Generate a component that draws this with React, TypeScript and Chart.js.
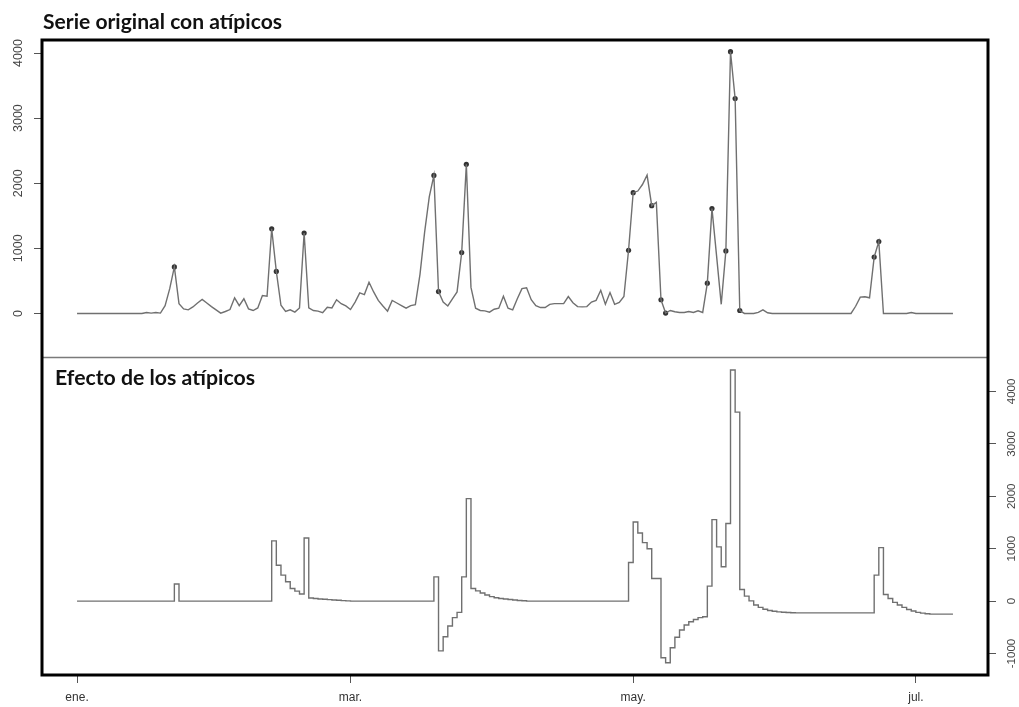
import React, { useEffect, useRef } from "react";
import { Chart, registerables } from "chart.js";

Chart.register(...registerables);

// Days counted from 1 January (day 0); one value per day.
const serieOriginal = [
  0, 0, 0, 0, 0, 0, 0, 0, 0, 0, 0, 0, 0, 0, 0, 15, 5, 15, 5,
  120, 380, 715, 150, 70, 55, 100, 160, 215, 160, 105, 55, 5, 30, 60, 240, 120, 225, 70, 45, 85,
  275, 265, 1300, 645, 125, 30, 55, 20, 85, 1235, 85, 45, 35, 10, 95, 85, 210, 150, 115, 60,
  175, 315, 290, 480, 330, 200, 115, 35, 200, 160, 120, 80, 120, 135, 600, 1250, 1790, 2120, 335, 175,
  115, 225, 330, 935, 2290, 400, 80, 45, 40, 20, 65, 80, 265, 80, 55, 225, 380, 395, 210, 120,
  90, 90, 140, 150, 150, 150, 260, 165, 105, 100, 105, 175, 200, 355, 140, 320, 140, 170, 260, 970,
  1855, 1880, 1980, 2125, 1655, 1705, 210, 5, 45, 25, 15, 15, 30, 15, 40, 15, 465, 1610, 880, 140,
  960, 4020, 3300, 45, 0, 0, 0, 15, 55, 10, 0, 0, 0, 0, 0, 0, 0, 0, 0, 0,
  0, 0, 0, 0, 0, 0, 0, 0, 110, 250, 255, 240, 865, 1105, 0, 0, 0, 0, 0, 0,
  15, 0, 0, 0, 0, 0, 0, 0, 0, 0,
];

const efectoAtipicos = [
  0, 0, 0, 0, 0, 0, 0, 0, 0, 0, 0, 0, 0, 0, 0, 0, 0, 0, 0, 0,
  0, 325, 0, 0, 0, 0, 0, 0, 0, 0, 0, 0, 0, 0, 0, 0, 0, 0, 0, 0,
  0, 0, 1150, 685, 495, 370, 240, 190, 135, 1205, 60, 50, 40, 35, 28, 22, 17, 10, 5, 0,
  0, 0, 0, 0, 0, 0, 0, 0, 0, 0, 0, 0, 0, 0, 0, 0, 0, 463, -950, -680,
  -475, -315, -215, 463, 1955, 240, 195, 155, 115, 85, 65, 50, 40, 30, 20, 12, 6, 0, 0, 0,
  0, 0, 0, 0, 0, 0, 0, 0, 0, 0, 0, 0, 0, 0, 0, 0, 0, 0, 0, 737,
  1510, 1300, 1115, 1000, 430, 430, -1080, -1175, -890, -690, -550, -455, -395, -350, -315, -300, 285, 1555, 1035, 655,
  1480, 4410, 3605, 220, 95, 5, -75, -120, -155, -180, -195, -205, -212, -218, -222, -225, -225, -225, -225, -225,
  -225, -225, -225, -225, -225, -225, -225, -225, -225, -225, -225, -225, 495, 1020, 125, 50, -25, -75, -120, -160,
  -190, -215, -230, -240, -248, -248, -248, -248, -248, -248,
];

const diasAtipicos = [21, 42, 43, 49, 77, 78, 83, 84, 119, 120, 124, 126, 127, 136, 137, 140, 141, 142, 143, 172, 173];

const xTickDias = [0, 59, 120, 181];
const xTickEtiquetas = ["ene.", "mar.", "may.", "jul."];
const yTicksSuperior = [0, 1000, 2000, 3000, 4000];
const yTicksInferior = [-1000, 0, 1000, 2000, 3000, 4000];

const tituloSuperior = "Serie original con atípicos";
const tituloInferior = "Efecto de los atípicos";

// Panel value ranges (each panel takes half of the plotting area)
const superiorRango = [-677, 4200];
const inferiorRango = [-1410, 4648];
const xRango = [-7.56, 196.56];

const LINE = "#707070";
const NARROW = "'Liberation Sans Narrow', 'Liberation Sans', Arial, sans-serif";

const marcoPlugin = {
  id: "marco",
  afterDraw(chart: any) {
    const { ctx, chartArea } = chart;
    const { left, top, right, bottom } = chartArea;
    const mid = (top + bottom) / 2;
    ctx.save();
    ctx.strokeStyle = "#7a7a7a";
    ctx.lineWidth = 1.5;
    ctx.beginPath();
    ctx.moveTo(left, mid);
    ctx.lineTo(right, mid);
    ctx.stroke();
    ctx.strokeStyle = "#000";
    ctx.lineWidth = 3;
    ctx.strokeRect(left, top, right - left, bottom - top);

    const drawTitle = (text: string, x: number, y: number, w: number) => {
      ctx.save();
      ctx.font = "bold 20px Lato, 'Open Sans', sans-serif";
      const mw = ctx.measureText(text).width;
      ctx.translate(x, y);
      ctx.scale(w / mw, 1);
      ctx.fillStyle = "#111";
      ctx.textAlign = "left";
      ctx.textBaseline = "alphabetic";
      ctx.fillText(text, 0, 0);
      ctx.restore();
    };
    drawTitle(tituloSuperior, left + 1, top - 11, 239);
    drawTitle(tituloInferior, left + 13, mid + 27, 200);
    ctx.restore();
  },
};

export default function App() {
  const ref = useRef<HTMLCanvasElement | null>(null);

  useEffect(() => {
    if (!ref.current) return;
    const [sLo, sHi] = superiorRango;
    const [iLo, iHi] = inferiorRango;
    const chart = new Chart(ref.current, {
      type: "line",
      data: {
        datasets: [
          {
            data: serieOriginal.map((v, i) => ({ x: i, y: v })),
            yAxisID: "ySup",
            borderColor: LINE,
            borderWidth: 1.4,
            pointRadius: 0,
            tension: 0,
          },
          {
            data: diasAtipicos.map((d) => ({ x: d, y: serieOriginal[d] })),
            yAxisID: "ySup",
            showLine: false,
            pointRadius: 2.6,
            pointBackgroundColor: "#333",
            pointBorderColor: "#333",
            pointBorderWidth: 0,
          },
          {
            data: efectoAtipicos.map((v, i) => ({ x: i, y: v })),
            yAxisID: "yInf",
            borderColor: LINE,
            borderWidth: 1.4,
            pointRadius: 0,
            stepped: true,
          },
        ],
      },
      options: {
        animation: false,
        responsive: false,
        devicePixelRatio: 1,
        layout: { padding: { top: 40, left: 0, right: 0, bottom: 0 } },
        plugins: { legend: { display: false }, tooltip: { enabled: false }, title: { display: false } },
        scales: {
          x: {
            type: "linear",
            min: xRango[0],
            max: xRango[1],
            afterBuildTicks: (s: any) => {
              s.ticks = xTickDias.map((v) => ({ value: v }));
            },
            afterFit: (s: any) => {
              s.height = 32;
            },
            ticks: {
              autoSkip: false,
              maxRotation: 0,
              padding: 7,
              color: "#333",
              font: { family: NARROW, size: 12 },
              callback: (_v: any, i: number) => xTickEtiquetas[i],
            },
            grid: { drawOnChartArea: false, drawTicks: true, tickLength: 8, color: "#555", lineWidth: 1 },
            border: { display: false },
          },
          ySup: {
            type: "linear",
            position: "left",
            min: sLo - (sHi - sLo),
            max: sHi,
            afterBuildTicks: (s: any) => {
              s.ticks = yTicksSuperior.map((v) => ({ value: v }));
            },
            afterFit: (s: any) => {
              s.width = 42;
            },
            ticks: {
              minRotation: 90,
              maxRotation: 90,
              crossAlign: "center",
              padding: 2,
              color: "#444",
              font: { family: "'Liberation Sans', Arial, sans-serif", size: 12.5 },
              callback: (v: any) => String(v),
            },
            grid: { drawOnChartArea: false, drawTicks: true, tickLength: 8, color: "#555", lineWidth: 1 },
            border: { display: false },
          },
          yInf: {
            type: "linear",
            position: "right",
            min: iLo,
            max: iHi + (iHi - iLo),
            afterBuildTicks: (s: any) => {
              s.ticks = yTicksInferior.map((v) => ({ value: v }));
            },
            afterFit: (s: any) => {
              s.width = 31;
            },
            ticks: {
              minRotation: 90,
              maxRotation: 90,
              crossAlign: "center",
              padding: 1,
              color: "#444",
              font: { family: NARROW, size: 11.5 },
              callback: (v: any) => String(v),
            },
            grid: { drawOnChartArea: false, drawTicks: true, tickLength: 8, color: "#555", lineWidth: 1 },
            border: { display: false },
          },
        },
      },
      plugins: [marcoPlugin],
    } as any);
    return () => chart.destroy();
  }, []);

  return (
    <div style={{ position: "fixed", left: 0, top: 0, width: 1019, height: 707, background: "#fff" }}>
      <canvas ref={ref} width={1019} height={707} style={{ display: "block" }} />
    </div>
  );
}
